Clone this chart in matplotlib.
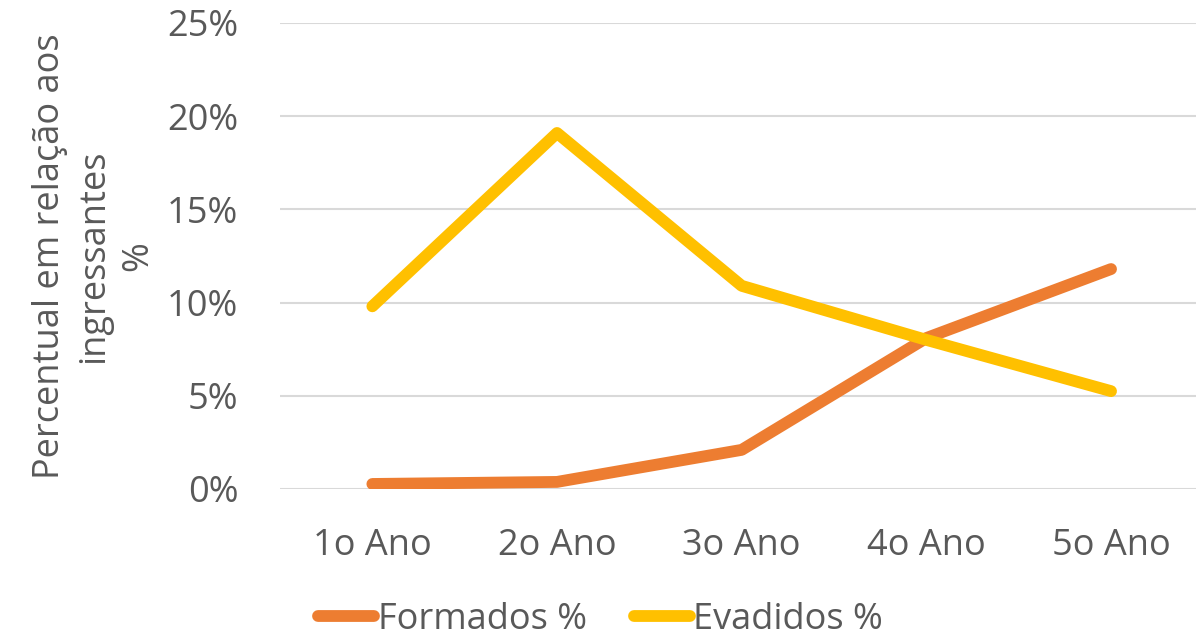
import numpy as np
import matplotlib.pyplot as plt
from matplotlib.ticker import PercentFormatter

anos = ['1o Ano', '2o Ano', '3o Ano', '4o Ano', '5o Ano']
formados = [0.27, 0.38, 2.1, 8.1, 11.8]
evadidos = [9.8, 19.1, 10.9, 8.0, 5.25]

plt.rcParams['font.family'] = ['Open Sans', 'DejaVu Sans']
cinza = '#595959'

fig = plt.figure(figsize=(11.96, 6.38), dpi=100)
ax = fig.add_axes([280/1196, 1 - 489/638, (1196 - 280)/1196, (489 - 23)/638])

x = np.arange(len(anos))
ax.plot(x, formados, color='#ED7D31', lw=8.5, solid_capstyle='round', label='Formados %')
ax.plot(x, evadidos, color='#FFC000', lw=8.5, solid_capstyle='round', label='Evadidos %')

ax.set_ylim(0, 25)
ax.set_xlim(-0.5, 4.46)
ax.set_yticks([0, 5, 10, 15, 20, 25])
ax.yaxis.set_major_formatter(PercentFormatter(decimals=0))
ax.set_xticks(x)
ax.set_xticklabels(anos)
ax.tick_params(length=0, labelsize=26, colors=cinza)
ax.tick_params(axis='y', pad=30)
ax.tick_params(axis='x', pad=28)
ax.grid(axis='y', color='#D9D9D9', lw=1.5)
ax.set_axisbelow(True)
for s in ax.spines.values():
    s.set_visible(False)

ax.set_ylabel('Percentual em relação aos\ningressantes\n%', fontsize=26, color=cinza,
              linespacing=1.3, labelpad=8)

leg = fig.legend(loc='center left', bbox_to_anchor=(318/1196, 1 - 620/638), ncol=2, frameon=False,
                 fontsize=26, labelcolor=cinza, handlelength=1.55, handletextpad=0.1,
                 columnspacing=1.3, borderpad=0, borderaxespad=0)

fig.savefig('out.png', dpi=100)
